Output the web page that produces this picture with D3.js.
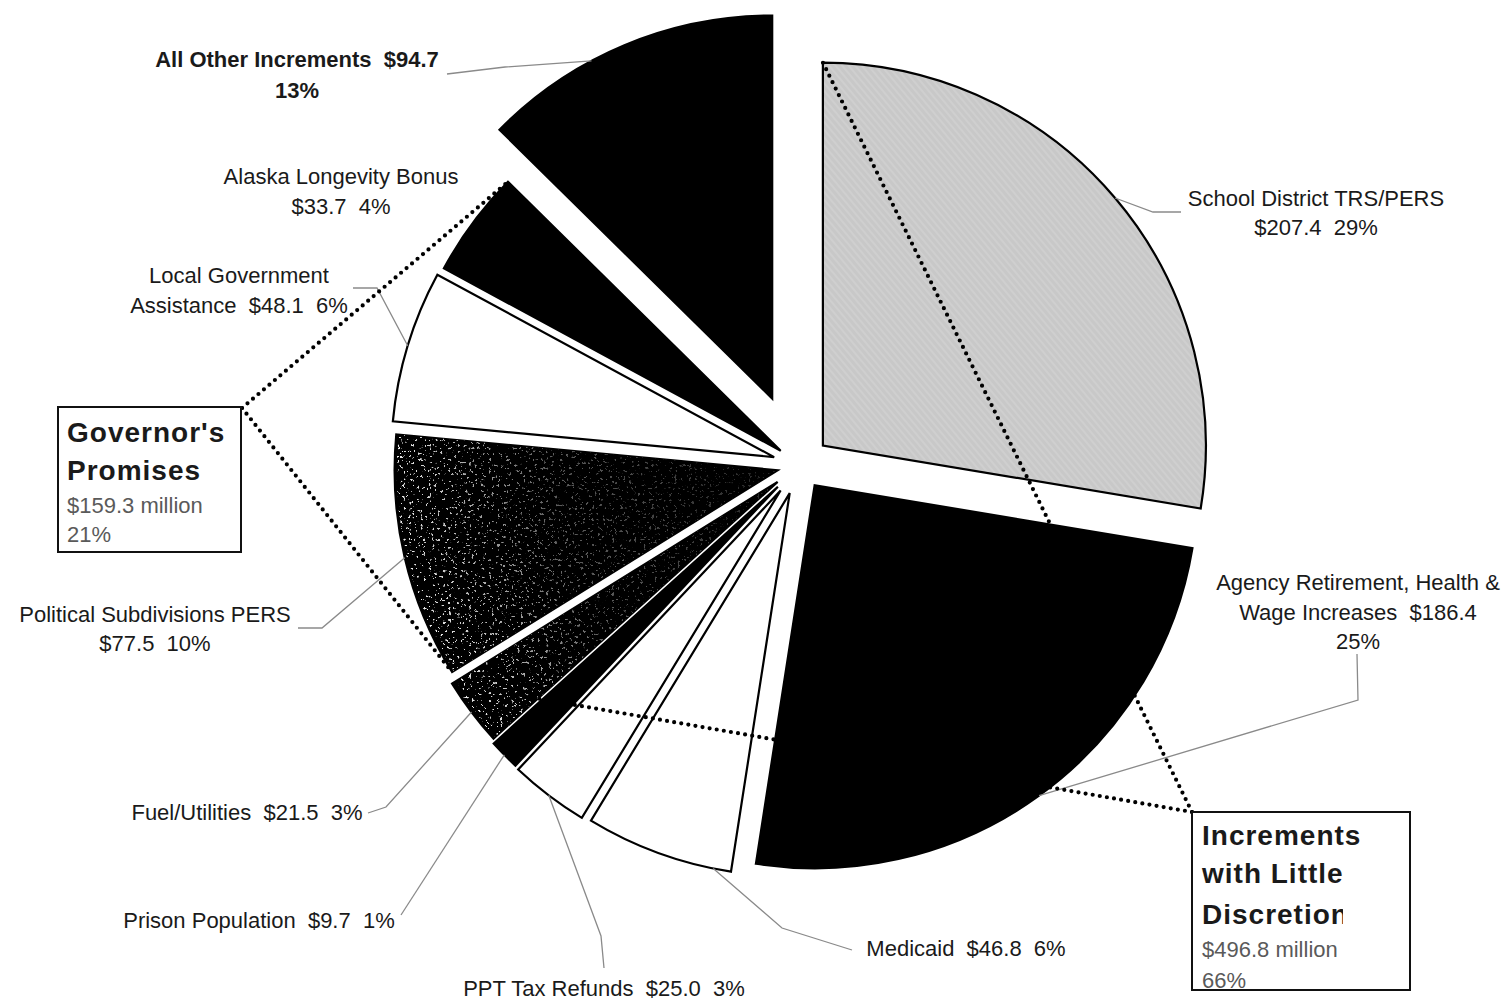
<!DOCTYPE html>
<html>
<head>
<meta charset="utf-8">
<script src="https://cdn.jsdelivr.net/npm/d3@7"></script>
<style>
  html, body { margin: 0; padding: 0; background: #fff; }
  svg { display: block; }
  text { font-family: "Liberation Sans", Arial, sans-serif; white-space: pre; }
</style>
</head>
<body>
<svg id="chart" width="1509" height="1004"></svg>
<script>
// ---- data -------------------------------------------------------------
const categories = [
  "School District TRS/PERS",
  "Agency Retirement, Health & Wage Increases",
  "Medicaid",
  "PPT Tax Refunds",
  "Prison Population",
  "Fuel/Utilities",
  "Political Subdivisions PERS",
  "Local Government Assistance",
  "Alaska Longevity Bonus",
  "All Other Increments"
];
const amounts = [207.4, 186.4, 46.8, 25.0, 9.7, 21.5, 77.5, 48.1, 33.7, 94.7];
const percentLabels = ["29%", "25%", "6%", "3%", "1%", "3%", "10%", "6%", "4%", "13%"];

// label text, one entry per line; {v} = amount, {p} = percent
const labelTemplates = [
  ["School District TRS/PERS", "{v}  {p}"],
  ["Agency Retirement, Health &", "Wage Increases  {v}", "{p}"],
  ["Medicaid  {v}  {p}"],
  ["PPT Tax Refunds  {v}  {p}"],
  ["Prison Population  {v}  {p}"],
  ["Fuel/Utilities  {v}  {p}"],
  ["Political Subdivisions PERS", "{v}  {p}"],
  ["Local Government", "Assistance  {v}  {p}"],
  ["Alaska Longevity Bonus", "{v}  {p}"],
  ["All Other Increments  {v}", "{p}"]
];

// grouped totals shown in the boxed call-outs
const groupTitles = [["Increments", "with Little", "Discretion"], ["Governor's", "Promises"]];
const groupMembers = [[0, 1, 2, 3, 4, 5], [6, 7, 8]];
const groupPercents = ["66%", "21%"];

// ---- layout / style -------------------------------------------------------
const cx = 800, cy = 465, R = 383;
const explode = [30, 25, 30, 32, 31, 28, 23, 27, 24, 72];
const fills = ["url(#gray)", "#000", "#fff", "#fff", "#000", "#000", "#000", "#fff", "#000", "#000"];
const speckled = [false, false, false, false, false, true, true, false, false, false];

// label anchor (centre x, first baseline), leader points on the label side,
// and where along the slice's arc the leader ends (0 = start, 1 = end)
const labelLayout = [
  { x: 1316, y: 206, bold: false, lead: [[1181, 212], [1153, 212]], at: 0.5 },
  { x: 1358, y: 590, bold: false, lead: [[1357, 654], [1358, 700]], at: 0.5 },
  { x: 966,  y: 956, bold: false, lead: [[852, 950], [782, 928]], at: 0.12 },
  { x: 604,  y: 996, bold: false, lead: [[604, 968], [601, 936]], at: 0.5 },
  { x: 259,  y: 928, bold: false, lead: [[401, 915]], at: 0.5 },
  { x: 247,  y: 820, bold: false, lead: [[368, 813], [386, 807]], at: 0.5 },
  { x: 155,  y: 622, bold: false, lead: [[298, 628], [322, 628]], at: 0.5 },
  { x: 239,  y: 283, bold: false, lead: [[353, 288], [377, 288]], at: 0.5 },
  { x: 341,  y: 184, bold: false, lead: null, at: 0.5 },
  { x: 297,  y: 67,  bold: true,  lead: [[447, 74], [505, 67]], at: 0.38 }
];
const lineGap = [29, 29.5, 0, 0, 0, 0, 29, 30, 30, 31];

const svg = d3.select("#chart");
const defs = svg.append("defs");

// light grey hatched fill
const pat = defs.append("pattern").attr("id", "gray")
  .attr("patternUnits", "userSpaceOnUse").attr("width", 5).attr("height", 5)
  .attr("patternTransform", "rotate(50)");
pat.append("rect").attr("width", 5).attr("height", 5).attr("fill", "#c8c8c8");
pat.append("line").attr("x1", 0).attr("y1", 1).attr("x2", 5).attr("y2", 1)
  .attr("stroke", "#d3d3d3").attr("stroke-width", 1.4);

// grain overlay: denser toward the rim of the slice
const rg = defs.append("radialGradient").attr("id", "rim")
  .attr("gradientUnits", "userSpaceOnUse").attr("cx", 0).attr("cy", 0).attr("r", R);
rg.append("stop").attr("offset", 0).attr("stop-color", "#fff").attr("stop-opacity", 0.15);
rg.append("stop").attr("offset", 0.6).attr("stop-color", "#fff").attr("stop-opacity", 0.4);
rg.append("stop").attr("offset", 1).attr("stop-color", "#fff").attr("stop-opacity", 1);

const f = defs.append("filter").attr("id", "speckle")
  .attr("x", "0").attr("y", "0").attr("width", "1").attr("height", "1");
f.append("feTurbulence").attr("type", "fractalNoise").attr("baseFrequency", 0.35)
  .attr("numOctaves", 3).attr("seed", 11).attr("result", "n");
f.append("feColorMatrix").attr("in", "n").attr("type", "matrix")
  .attr("values", "0 0 0 0 0.85  0 0 0 0 0.85  0 0 0 0 0.85  16 0 0 0 -10.4")
  .attr("result", "dots");
f.append("feComposite").attr("in", "dots").attr("in2", "SourceGraphic").attr("operator", "in");

// ---- pie ----------------------------------------------------------------
const pie = d3.pie().sort(null).value(d => d).startAngle(0).endAngle(2 * Math.PI);
const arcs = pie(amounts);
const arc = d3.arc().innerRadius(0).outerRadius(R);

const polar = (a, r) => [Math.sin(a) * r, -Math.cos(a) * r];
const offset = i => {
  const m = (arcs[i].startAngle + arcs[i].endAngle) / 2;
  return polar(m, explode[i]);
};
const outerPoint = (i, a) => {
  const o = offset(i), p = polar(a, R);
  return [cx + o[0] + p[0], cy + o[1] + p[1]];
};
const shift = i => { const o = offset(i); return `translate(${cx + o[0]},${cy + o[1]})`; };

const g = svg.append("g");
g.selectAll("path.slice").data(arcs).join("path")
  .attr("class", "slice")
  .attr("d", arc)
  .attr("transform", (d, i) => shift(i))
  .attr("fill", (d, i) => fills[i])
  .attr("stroke", "#000").attr("stroke-width", 2.2).attr("stroke-linejoin", "miter");

const grainArc = d3.arc().innerRadius(0).outerRadius(R - 2);
g.selectAll("path.grain").data(arcs.filter((d, i) => speckled[i])).join("path")
  .attr("class", "grain")
  .attr("d", grainArc)
  .attr("transform", d => shift(d.index))
  .attr("fill", "url(#rim)")
  .attr("filter", "url(#speckle)");

// ---- leader lines -------------------------------------------------------
const line = d3.line();
labelLayout.forEach((L, i) => {
  if (!L.lead) return;
  const a = arcs[i].startAngle + (arcs[i].endAngle - arcs[i].startAngle) * L.at;
  const pts = L.lead.concat([outerPoint(i, a)]);
  svg.append("path").attr("d", line(pts)).attr("fill", "none")
    .attr("stroke", "#8a8a8a").attr("stroke-width", 1.3);
});

// ---- labels -------------------------------------------------------------
labelTemplates.forEach((lines, i) => {
  const L = labelLayout[i];
  const t = svg.append("text").attr("text-anchor", "middle")
    .attr("font-size", 22).attr("font-weight", L.bold ? "bold" : "normal").attr("fill", "#1a1a1a");
  lines.forEach((s, k) => {
    const txt = s.replace("{v}", "$" + amounts[i].toFixed(1)).replace("{p}", percentLabels[i]);
    t.append("tspan").attr("x", L.x).attr("y", L.y + k * lineGap[i]).text(txt);
  });
});

// ---- grouped call-out boxes with dotted brackets -------------------------
const boxes = [
  { x: 1192, y: 812, w: 218, h: 178, tx: 1202, clipW: 150,
    base: [845, 883, 924, 957, 988], corner: [1192, 812],
    ends: [outerPoint(0, arcs[0].startAngle), outerPoint(5, arcs[5].endAngle)] },
  { x: 58, y: 407, w: 183, h: 145, tx: 67, clipW: 182,
    base: [442, 480, 513, 542], corner: [242, 408],
    ends: [outerPoint(8, arcs[8].endAngle), outerPoint(6, arcs[6].startAngle)] }
];

boxes.forEach((b, gi) => {
  b.ends.forEach(e => {
    svg.append("line").attr("x1", b.corner[0]).attr("y1", b.corner[1])
      .attr("x2", e[0]).attr("y2", e[1])
      .attr("stroke", "#000").attr("stroke-width", 4.2)
      .attr("stroke-linecap", "round").attr("stroke-dasharray", "0 7.2");
  });
  svg.append("rect").attr("x", b.x).attr("y", b.y).attr("width", b.w).attr("height", b.h)
    .attr("fill", "#fff").attr("stroke", "#111").attr("stroke-width", 2);
  const clipId = "boxclip" + gi;
  defs.append("clipPath").attr("id", clipId).append("rect")
    .attr("x", b.x + 1).attr("y", b.y + 1).attr("width", b.clipW).attr("height", b.h - 2);
  const tg = svg.append("g");
  const clipped = svg.append("g").attr("clip-path", `url(#${clipId})`);
  const titles = groupTitles[gi];
  titles.forEach((s, k) => {
    (k === 0 ? tg : clipped).append("text").attr("x", b.tx).attr("y", b.base[k])
      .attr("font-size", 28).attr("font-weight", "bold").attr("fill", "#1a1a1a")
      .attr("letter-spacing", 1).text(s);
  });
  const total = d3.sum(groupMembers[gi], i => amounts[i]);
  clipped.append("text").attr("x", b.tx).attr("y", b.base[titles.length])
    .attr("font-size", 22).attr("fill", "#5a5a5a").text("$" + total.toFixed(1) + " million");
  clipped.append("text").attr("x", b.tx).attr("y", b.base[titles.length + 1])
    .attr("font-size", 22).attr("fill", "#5a5a5a").text(groupPercents[gi]);
});
</script>
</body>
</html>
